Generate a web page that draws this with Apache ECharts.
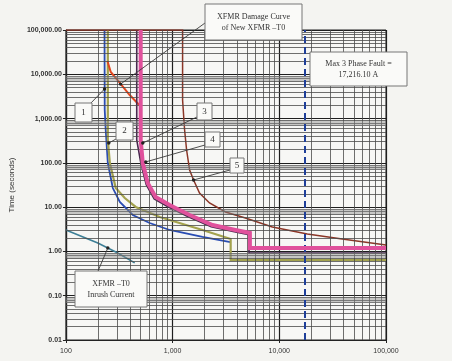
<!DOCTYPE html>
<html>
<head>
<meta charset="utf-8">
<script src="https://cdn.jsdelivr.net/npm/echarts@6/dist/echarts.min.js"></script>
<style>
  html, body { margin: 0; padding: 0; background: #f4f4f1; }
  #chart { width: 452px; height: 361px; }
</style>
</head>
<body>
<div id="chart"></div>
<script>
// Axis ranges (amperes, seconds)
const currentTicks = [100, 1000, 10000, 100000];
const timeTicks = [0.01, 0.1, 1, 10, 100, 1000, 10000, 100000];
const faultCurrent = 17216.10;

// Protective device curves: [current (A), time (s)]
const curve1 = [[230, 100000], [231, 1560], [236, 552], [247, 99], [275, 27], [320, 13.1], [423, 6.65],
  [609, 4.39], [937, 3.05], [1905, 2.12], [3480, 1.63]];
const curve2 = [[247, 100000], [247, 328], [258, 99], [293, 27], [356, 16.1], [451, 10.1], [757, 6.0],
  [1905, 3.05], [3500, 1.91], [3500, 0.64], [100000, 0.64]];
const curve3 = [[461, 100000], [461, 330], [505, 95], [566, 32], [672, 15.4], [905, 10.2], [1400, 6.05],
  [2300, 3.6], [3780, 2.78], [5200, 2.38], [5200, 0.92], [100000, 0.92]];
const curve4 = [[502, 100000], [502, 328], [525, 99], [584, 35], [693, 16.9], [937, 11.2], [1443, 6.65],
  [2366, 3.95], [3880, 3.05], [5300, 2.61], [5300, 1.2], [100000, 1.2]];
const curve5 = [[100, 100000], [1240, 100000], [1240, 2630], [1295, 552], [1352, 195], [1443, 69], [1572, 41],
  [1787, 20.9], [2217, 12.4], [3130, 7.78], [4810, 5.69], [8610, 3.56], [18300, 2.48], [38800, 1.91], [100000, 1.40]];
const damageCurve = [[245, 20000], [263, 11300], [320, 6360], [396, 3400], [500, 1900]];
const inrushCurve = [[100, 3.05], [199, 1.55], [306, 0.92], [441, 0.55]];

// Callout targets on the curves
const callouts = [
  { text: ['1'], box: [75, 103, 17, 19], from: [90, 104], to: [230, 4660] },
  { text: ['2'], box: [116, 122, 17, 18], from: [116, 139], to: [252, 280] },
  { text: ['3'], box: [197, 103, 15, 17], from: [197, 117], to: [525, 280] },
  { text: ['4'], box: [205, 132, 15, 15], from: [205, 145], to: [560, 105] },
  { text: ['5'], box: [230, 158, 14, 15], from: [230, 170], to: [1570, 41] },
  { text: ['XFMR Damage Curve', 'of New XFMR \u2013T0'], box: [205, 4, 97, 36], from: [205, 23], to: [325, 6000] },
  { text: ['XFMR \u2013T0', 'Inrush Current'], box: [75, 271, 72, 36], from: [98, 271], to: [247, 1.2] },
  { text: ['Max 3 Phase Fault =', '17,216.10 A'], box: [310, 52, 97, 34], from: null, to: null }
];

// Log grid: minor lines at 2..9 of every decade
function minorValues(ticks) {
  const out = [];
  for (let i = 0; i < ticks.length - 1; i++) {
    for (let k = 2; k <= 9; k++) out.push(+(ticks[i] * k).toPrecision(3));
  }
  return out;
}
const gridLines = [];
minorValues(currentTicks).forEach(v => gridLines.push({ xAxis: v, lineStyle: { color: '#4a4a4a', width: 0.8, type: 'solid' } }));
minorValues(timeTicks).forEach(v => gridLines.push({ yAxis: v, lineStyle: { color: '#4a4a4a', width: 0.8, type: 'solid' } }));
// soft grey bands under each decade line of the time scale
timeTicks.slice(1, -1).forEach(v => gridLines.push({ yAxis: +(v * 0.8).toPrecision(3), lineStyle: { color: 'rgba(140,140,140,0.45)', width: 5, type: 'solid' } }));
gridLines.push({ xAxis: faultCurrent, lineStyle: { color: '#1f3f99', width: 2, type: [7, 4] } });

const chart = echarts.init(document.getElementById('chart'), null, { renderer: 'canvas' });

function curve(name, data, color, width, z) {
  return {
    name, type: 'line', data, showSymbol: false, symbol: 'none', animation: false, z,
    lineStyle: { color, width, cap: 'butt', join: 'miter' }
  };
}

chart.setOption({
  backgroundColor: '#f4f4f1',
  animation: false,
  grid: { left: 63, right: 66, top: 30, bottom: 21, show: true, backgroundColor: '#f7f7f5', borderColor: '#222', borderWidth: 1 },
  xAxis: {
    type: 'log', logBase: 10, min: currentTicks[0], max: currentTicks[currentTicks.length - 1],
    axisLine: { show: true, lineStyle: { color: '#222', width: 1.2 } },
    axisTick: { show: true, length: 3, lineStyle: { color: '#222' } },
    axisLabel: { color: '#333', fontSize: 7, fontFamily: 'Liberation Sans', margin: 8,
      formatter: v => Number(v).toLocaleString('en-US') },
    splitLine: { show: true, lineStyle: { color: '#1e1e1e', width: 1.2 } }
  },
  yAxis: {
    type: 'log', logBase: 10, min: timeTicks[0], max: timeTicks[timeTicks.length - 1],
    name: 'Time (seconds)', nameLocation: 'middle', nameGap: 43, nameRotate: 90,
    nameTextStyle: { color: '#333', fontSize: 8, fontFamily: 'Liberation Sans' },
    axisLine: { show: true, lineStyle: { color: '#222', width: 1.2 } },
    axisTick: { show: true, length: 3, lineStyle: { color: '#222' } },
    axisLabel: { color: '#333', fontSize: 7, fontFamily: 'Liberation Sans', margin: 4, fontWeight: 'bold',
      formatter: v => Number(v).toLocaleString('en-US', { minimumFractionDigits: 2, maximumFractionDigits: 2 }) },
    splitLine: { show: true, lineStyle: { color: '#1e1e1e', width: 1.2 } }
  },
  series: [
    {
      name: 'grid', type: 'line', data: [], z: 1, animation: false, silent: true,
      markLine: { silent: true, symbol: 'none', animation: false, label: { show: false }, data: gridLines }
    },
    curve('XFMR -T0 Inrush Current', inrushCurve, '#3d7f96', 1.6, 3),
    curve('1', curve1, '#2a4db3', 1.8, 4),
    curve('2', curve2, '#a3a24e', 2.2, 4),
    curve('XFMR Damage Curve', damageCurve, '#e2471f', 2, 4),
    curve('3', curve3, '#4a2850', 1.6, 4),
    curve('4', curve4, '#e0519c', 4, 5),
    curve('5', curve5, '#8b3627', 1.5, 4)
  ]
});

// Callout boxes and leader lines
const graphics = [];
callouts.forEach(c => {
  if (c.to) {
    const tip = chart.convertToPixel({ gridIndex: 0 }, c.to);
    graphics.push({ type: 'line', z: 20, silent: true,
      shape: { x1: c.from[0], y1: c.from[1], x2: tip[0], y2: tip[1] },
      style: { stroke: '#3a3a3a', lineWidth: 0.9 } });
    graphics.push({ type: 'circle', z: 21, silent: true,
      shape: { cx: tip[0], cy: tip[1], r: 1.7 }, style: { fill: '#222' } });
  }
  const [bx, by, bw, bh] = c.box;
  graphics.push({ type: 'rect', z: 22, silent: true,
    shape: { x: bx, y: by, width: bw, height: bh },
    style: { fill: '#fafaf8', stroke: '#777', lineWidth: 1 } });
  const lh = 11;
  const y0 = by + bh / 2 - (c.text.length - 1) * lh / 2;
  c.text.forEach((t, i) => {
    graphics.push({ type: 'text', z: 23, silent: true, x: bx + bw / 2, y: y0 + i * lh,
      style: { text: t, fill: '#333', font: (c.text.length > 1 ? '8px' : '9px') + ' "Liberation Serif"',
        align: 'center', verticalAlign: 'middle' } });
  });
});
chart.setOption({ graphic: graphics });
</script>
</body>
</html>
